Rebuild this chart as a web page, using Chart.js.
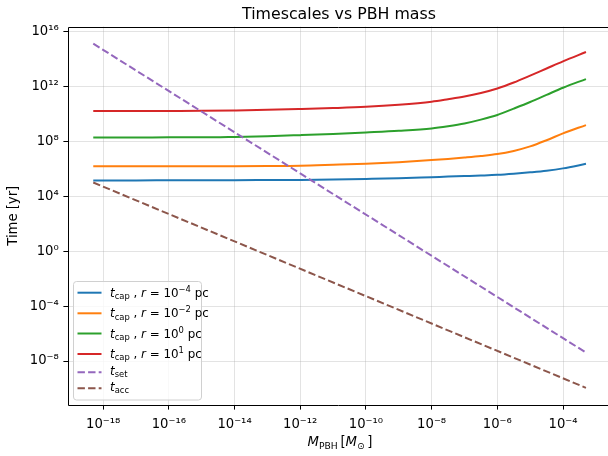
<!DOCTYPE html>
<html>
<head>
<meta charset="utf-8">
<script src="https://cdn.jsdelivr.net/npm/chart.js@4.4.1/dist/chart.umd.min.js"></script>
<style>
  html, body { margin: 0; padding: 0; background: #fff; overflow: hidden; }
  #wrap { width: 608px; height: 456px; position: relative; }
</style>
</head>
<body>
<div id="wrap"><canvas id="c" width="608" height="456"></canvas></div>
<script>
// PBH mass grid in solar masses
const massCap = [5e-19, 1e-17, 1e-16, 1e-15, 1e-14, 1e-13, 1e-12, 1e-11, 1e-10, 1e-9, 1e-8,
                 3.16e-8, 1e-7, 3.16e-7, 1e-6, 3.16e-6, 1e-5, 3.16e-5, 1e-4, 5e-4];
// capture timescales (yr) for four orbital radii
const tCapR1em4 = [1.41e5, 1.41e5, 1.45e5, 1.48e5, 1.48e5, 1.51e5, 1.55e5, 1.66e5, 1.82e5, 2.04e5, 2.45e5,
                   2.69e5, 2.95e5, 3.24e5, 3.63e5, 4.37e5, 5.5e5, 7.24e5, 1.07e6, 2.29e6];
const tCapR1em2 = [1.55e6, 1.55e6, 1.55e6, 1.55e6, 1.55e6, 1.58e6, 1.66e6, 1.95e6, 2.34e6, 3.02e6, 4.27e6,
                   5.25e6, 6.61e6, 8.51e6, 1.17e7, 2.0e7, 4.27e7, 1.2e8, 3.8e8, 1.51e9];
const tCapR1e0  = [1.91e8, 1.91e8, 1.95e8, 1.95e8, 2.09e8, 2.34e8, 2.82e8, 3.47e8, 4.47e8, 5.89e8, 8.71e8,
                   1.26e9, 2.0e9, 3.8e9, 8.32e9, 2.4e10, 7.24e10, 2.4e11, 7.94e11, 3.39e12];
const tCapR1e1  = [1.58e10, 1.58e10, 1.62e10, 1.66e10, 1.78e10, 1.95e10, 2.24e10, 2.63e10, 3.24e10, 4.57e10, 7.59e10,
                   1.15e11, 1.82e11, 3.31e11, 7.08e11, 1.91e12, 6.03e12, 2.0e13, 6.61e13, 3.16e14];
// settling and accretion timescales (power laws, end points)
const massPow = [5e-19, 5e-4];
const tSet = [1.29e15, 4.17e-8];
const tAcc = [1.0e5, 1.12e-10];

// axis ticks
const xTicks = [1e-18, 1e-16, 1e-14, 1e-12, 1e-10, 1e-8, 1e-6, 1e-4];
const yTicks = [1e-8, 1e-4, 1e0, 1e4, 1e8, 1e12, 1e16];

// legend radii exponents
const radiusExps = ['\u22124', '\u22122', '0', '1'];

const FONT = "'DejaVu Sans', 'Liberation Sans', sans-serif";
const COLORS = ['#1f77b4', '#ff7f0e', '#2ca02c', '#d62728', '#9467bd', '#8c564b'];

const pts = (xs, ys) => xs.map((x, i) => ({ x: x, y: ys[i] }));

const SUP = { '0':'\u2070','1':'\u00b9','2':'\u00b2','3':'\u00b3','4':'\u2074','5':'\u2075',
              '6':'\u2076','7':'\u2077','8':'\u2078','9':'\u2079','-':'\u207b' };
function powLabel(v) {
  const e = Math.round(Math.log10(v));
  return '10' + String(e).split('').map(ch => SUP[ch]).join('');
}

// draw a run of text pieces with mixed style / size / vertical offset
function richWidth(ctx, segs) {
  let w = 0;
  segs.forEach(s => { ctx.font = (s.i ? 'italic ' : '') + s.size + 'px ' + FONT; w += ctx.measureText(s.t).width; });
  return w;
}
function drawRich(ctx, x, y, segs, align) {
  let cx = x;
  if (align === 'center') cx = x - richWidth(ctx, segs) / 2;
  ctx.textBaseline = 'alphabetic';
  ctx.textAlign = 'left';
  segs.forEach(s => {
    ctx.font = (s.i ? 'italic ' : '') + s.size + 'px ' + FONT;
    ctx.fillText(s.t, cx, y + (s.dy || 0));
    cx += ctx.measureText(s.t).width;
  });
}

const decorations = {
  id: 'decorations',
  afterDraw(chart) {
    const ctx = chart.ctx;
    const a = chart.chartArea;
    ctx.save();
    // spines
    ctx.strokeStyle = '#000';
    ctx.lineWidth = 1;
    ctx.beginPath();
    ctx.moveTo(a.right + 0.5, Math.round(a.top) + 0.5);
    ctx.lineTo(Math.round(a.left) + 0.5, Math.round(a.top) + 0.5);
    ctx.lineTo(Math.round(a.left) + 0.5, Math.round(a.bottom) + 0.5);
    ctx.lineTo(a.right + 0.5, Math.round(a.bottom) + 0.5);
    ctx.stroke();

    ctx.fillStyle = '#000';
    // title
    ctx.font = '15.8px ' + FONT;
    ctx.textAlign = 'center';
    ctx.textBaseline = 'alphabetic';
    ctx.fillText('Timescales vs PBH mass', 339, 18.5);

    // x-axis title
    const big = 13.2, small = 9.2;
    drawRich(ctx, 340, 446, [
      { t: 'M', i: true, size: big },
      { t: 'PBH', size: small, dy: 2.6 },
      { t: '\u2009[', size: big },
      { t: 'M', i: true, size: big },
      { t: '\u2299', size: small, dy: 2.6 },
      { t: '\u2009]', size: big }
    ], 'center');

    // legend
    const bx = 73.5, by = 281.5, bw = 128, bh = 118.5;
    ctx.beginPath();
    ctx.roundRect(bx, by, bw, bh, 3);
    ctx.fillStyle = 'rgba(255,255,255,0.8)';
    ctx.fill();
    ctx.strokeStyle = '#d0d0d0';
    ctx.lineWidth = 1;
    ctx.stroke();

    const rowsY = [292.7, 313.3, 333.5, 354, 372.3, 388.3];
    const fs = 11.9, fsSub = 8.4;
    rowsY.forEach((ry, k) => {
      ctx.strokeStyle = COLORS[k];
      ctx.lineWidth = 2;
      ctx.setLineDash(k >= 4 ? [7.4, 3.2] : []);
      ctx.beginPath();
      ctx.moveTo(77.5, ry);
      ctx.lineTo(101.5, ry);
      ctx.stroke();
      ctx.setLineDash([]);
      ctx.fillStyle = '#000';
      if (k < 4) {
        drawRich(ctx, 110, ry + 4, [
          { t: 't', i: true, size: fs },
          { t: 'cap', size: fsSub, dy: 2.4 },
          { t: ' , ', size: fs },
          { t: 'r', i: true, size: fs },
          { t: ' = 10', size: fs },
          { t: radiusExps[k], size: fsSub, dy: -5 },
          { t: ' pc', size: fs }
        ]);
      } else {
        drawRich(ctx, 110, ry + 2.5, [
          { t: 't', i: true, size: fs },
          { t: k === 4 ? 'set' : 'acc', size: fsSub, dy: 2.4 }
        ]);
      }
    });
    ctx.restore();
  }
};

const lineBase = { borderWidth: 2, pointRadius: 0, fill: false };

new Chart(document.getElementById('c'), {
  type: 'line',
  data: {
    datasets: [
      { ...lineBase, label: 't_cap r=1e-4 pc', data: pts(massCap, tCapR1em4), borderColor: COLORS[0], cubicInterpolationMode: 'monotone', order: 6 },
      { ...lineBase, label: 't_cap r=1e-2 pc', data: pts(massCap, tCapR1em2), borderColor: COLORS[1], cubicInterpolationMode: 'monotone', order: 5 },
      { ...lineBase, label: 't_cap r=1e0 pc',  data: pts(massCap, tCapR1e0),  borderColor: COLORS[2], cubicInterpolationMode: 'monotone', order: 4 },
      { ...lineBase, label: 't_cap r=1e1 pc',  data: pts(massCap, tCapR1e1),  borderColor: COLORS[3], cubicInterpolationMode: 'monotone', order: 3 },
      { ...lineBase, label: 't_set', data: pts(massPow, tSet), borderColor: COLORS[4], borderDash: [7.4, 3.2], order: 2 },
      { ...lineBase, label: 't_acc', data: pts(massPow, tAcc), borderColor: COLORS[5], borderDash: [7.4, 3.2], order: 1 }
    ]
  },
  options: {
    responsive: false,
    animation: false,
    devicePixelRatio: 1,
    layout: { padding: { top: 26.5, left: 0, right: 0, bottom: 0 } },
    plugins: { legend: { display: false }, title: { display: false }, tooltip: { enabled: false } },
    scales: {
      x: {
        type: 'logarithmic',
        min: Math.pow(10, -19.07),
        max: Math.pow(10, -2.63),
        afterBuildTicks: s => { s.ticks = xTicks.map(v => ({ value: v })); },
        afterFit: s => { s.height = 51; },
        ticks: {
          callback: v => powLabel(v),
          color: '#000', font: { family: FONT, size: 13.2 },
          maxRotation: 0, autoSkip: false, padding: 7
        },
        grid: { color: 'rgba(176,176,176,0.35)', lineWidth: 1, tickColor: '#000', tickLength: 4.6, tickWidth: 1 },
        border: { display: false }
      },
      y: {
        type: 'logarithmic',
        min: Math.pow(10, -11.2),
        max: Math.pow(10, 16.36),
        afterBuildTicks: s => { s.ticks = yTicks.map(v => ({ value: v })); },
        afterFit: s => { s.width = 68; },
        ticks: {
          callback: v => powLabel(v),
          color: '#000', font: { family: FONT, size: 13.2 },
          autoSkip: false, padding: 4.6
        },
        title: { display: true, text: 'Time [yr]', color: '#000', font: { family: FONT, size: 13.2 }, padding: { top: 6, bottom: 0 } },
        grid: { color: 'rgba(176,176,176,0.35)', lineWidth: 1, tickColor: '#000', tickLength: 4.6, tickWidth: 1 },
        border: { display: false }
      }
    }
  },
  plugins: [decorations]
});
</script>
</body>
</html>
